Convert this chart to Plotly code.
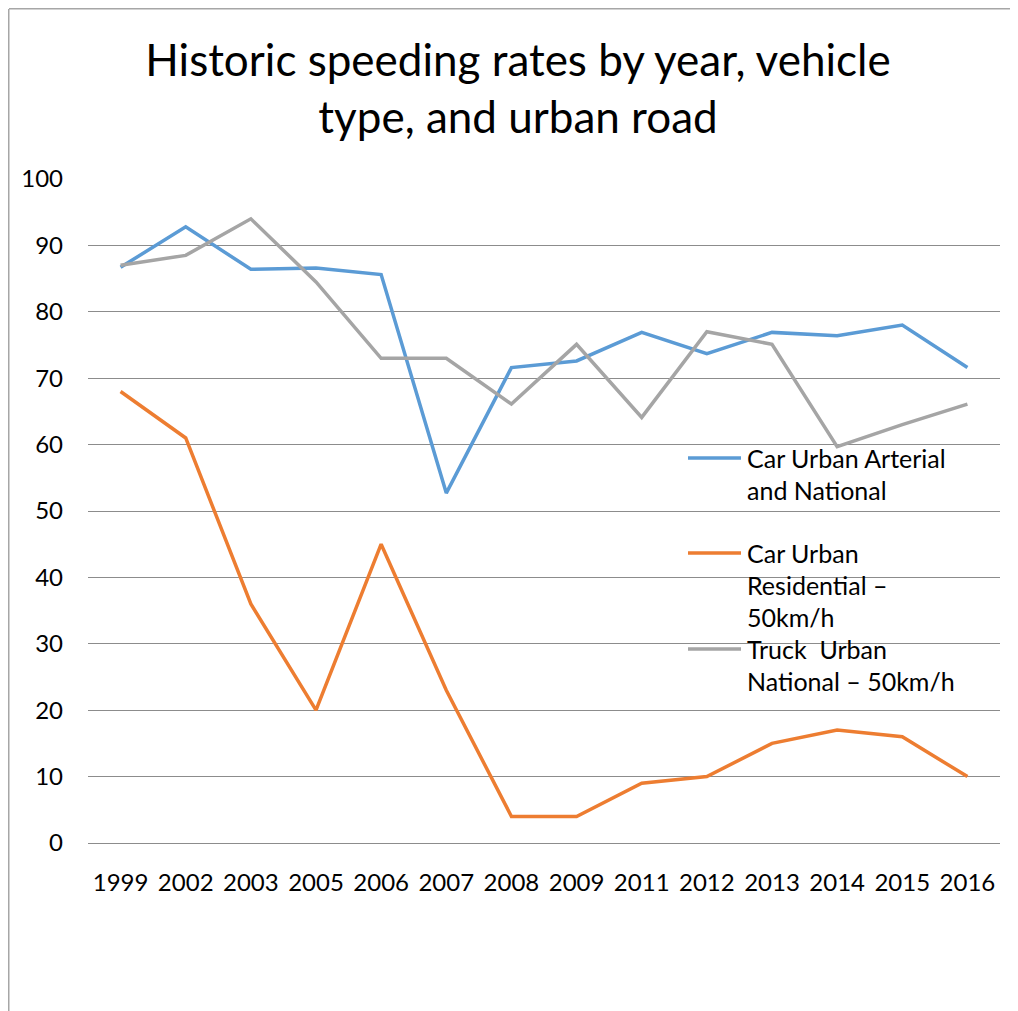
import plotly.graph_objects as go

years = ["1999", "2002", "2003", "2005", "2006", "2007", "2008", "2009",
         "2011", "2012", "2013", "2014", "2015", "2016"]
car_arterial = [86.7, 92.8, 86.4, 86.6, 85.6, 52.7, 71.6, 72.6, 76.9, 73.7, 76.9, 76.4, 78.0, 71.6]
car_residential = [68, 61, 36, 20, 45, 23, 4, 4, 9, 10, 15, 17, 16, 10]
truck_national = [87.0, 88.5, 94.0, 84.5, 73.0, 73.0, 66.1, 75.1, 64.1, 77.0, 75.1, 59.7, 63.0, 66.1]

series_names = ["Car Urban Arterial and National",
                "Car Urban Residential – 50km/h",
                "Truck  Urban National – 50km/h"]
legend_lines = [["Car Urban Arterial", "and National"],
                ["Car Urban", "Residential –", "50km/h"],
                ["Truck  Urban", "National – 50km/h"]]
colors = ["#5B9BD5", "#ED7D31", "#A5A5A5"]

FONT = "Lato"
OFF = 8  # page body margin offset
W, H = 1018, 1011
L, R, T, B = 88 - OFF, 18 + OFF, 179 - OFF, 168 + OFF
PW, PH = W - L - R, H - T - B

def px_x(p):
    return (p - OFF - L) / PW

def px_y(p):
    return (H - B - (p - OFF)) / PH

fig = go.Figure()
for name, vals, col in zip(series_names, [car_arterial, car_residential, truck_national], colors):
    fig.add_trace(go.Scatter(x=years, y=vals, mode="lines", name=name,
                             line=dict(color=col, width=3.5), showlegend=False))

shapes = [
    dict(type="line", xref="paper", yref="paper", x0=px_x(OFF + 1), x1=px_x(1040),
         y0=px_y(OFF + 0.75), y1=px_y(OFF + 0.75), line=dict(color="#A6A6A6", width=1.5)),
    dict(type="line", xref="paper", yref="paper", x0=px_x(OFF + 0.75), x1=px_x(OFF + 0.75),
         y0=px_y(OFF + 1), y1=px_y(1040), line=dict(color="#A6A6A6", width=1.5)),
]
annotations = []
entry_tops = [458, 553, 649]
line_step = 32
for lines, top, col in zip(legend_lines, entry_tops, colors):
    shapes.append(dict(type="line", xref="paper", yref="paper",
                       x0=px_x(688), x1=px_x(741), y0=px_y(top), y1=px_y(top),
                       line=dict(color=col, width=3.5)))
    for i, t in enumerate(lines):
        annotations.append(dict(text=t, xref="paper", yref="paper",
                                x=px_x(745), y=px_y(top + i * line_step),
                                xanchor="left", yanchor="middle", showarrow=False,
                                font=dict(family=FONT, size=25, color="#000000")))

fig.update_layout(
    width=W, height=H,
    margin=dict(l=L, r=R, t=T, b=B),
    paper_bgcolor="white", plot_bgcolor="white",
    title=dict(text="Historic speeding rates by year, vehicle<br>type, and urban road",
               x=px_x(518), xref="paper", xanchor="center",
               y=1 - (76 - OFF) / H, yanchor="middle",
               font=dict(family=FONT, size=44, color="#000000")),
    font=dict(family=FONT, size=24, color="#000000"),
    shapes=shapes, annotations=annotations,
)
fig.update_xaxes(type="category", range=[-0.5, 13.5], showgrid=False,
                 showline=True, linecolor="#8C8C8C", linewidth=1,
                 ticks="", ticklabelstandoff=18,
                 tickfont=dict(family=FONT, size=24, color="#000000"), zeroline=False)
fig.update_yaxes(range=[0, 100], dtick=10, tick0=0, showgrid=True,
                 gridcolor="#8C8C8C", gridwidth=1, showline=False, zeroline=False,
                 ticks="", ticklabelstandoff=24,
                 tickfont=dict(family=FONT, size=24, color="#000000"))

fig.write_html("out.html")
